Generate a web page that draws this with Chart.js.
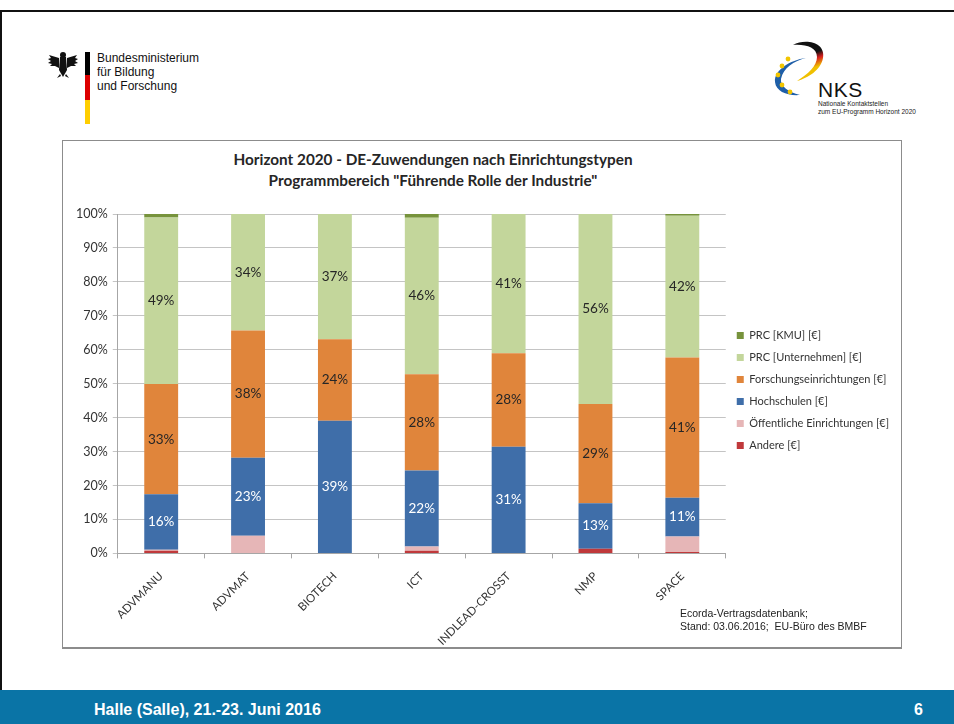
<!DOCTYPE html>
<html>
<head>
<meta charset="utf-8">
<script src="https://cdn.jsdelivr.net/npm/chart.js@4.4.0/dist/chart.umd.min.js"></script>
<style>
body { margin: 0; width: 954px; height: 724px; background: #fff; position: relative; overflow: hidden; font-family: "Liberation Sans", Arial, sans-serif; }
#topline { position: absolute; left: 0; top: 10px; width: 954px; height: 2px; background: #111; }
#leftline { position: absolute; left: 0; top: 10px; width: 2px; height: 714px; background: #111; }
#footer { position: absolute; left: 0; top: 690px; width: 954px; height: 34px; background: #0a74a6; color: #fff; font-weight: bold; font-size: 16px; }
#footer .l { position: absolute; left: 94px; top: 11px; }
#footer .r { position: absolute; left: 914px; top: 11px; }
#bmbf { position: absolute; left: 97px; top: 51px; font-size: 12px; line-height: 14px; color: #111; }
#flag { position: absolute; left: 85px; top: 52px; width: 5px; height: 72px; background: linear-gradient(#000 0, #000 32%, #dd0000 32%, #dd0000 66%, #ffce00 66%); }
#nks { position: absolute; left: 818px; top: 78px; font-size: 21px; color: #111; letter-spacing: 0.5px; }
#nkssub { position: absolute; left: 818px; top: 100px; font-size: 6.5px; line-height: 8px; color: #222; }
#box { position: absolute; left: 62px; top: 140px; width: 838px; height: 506px; border: 1px solid #8c8c8c; border-bottom-width: 2px; }
#title { position: absolute; left: 133px; width: 600px; top: 149px; text-align: center; font-family: Lato, sans-serif; font-weight: bold; font-size: 15.3px; line-height: 21px; color: #262626; }
#wrap { position: absolute; left: 63px; top: 196px; width: 836px; height: 463px; }
#source { position: absolute; left: 680px; top: 607px; font-size: 10.5px; line-height: 13px; color: #222; }
</style>
</head>
<body>
<div id="topline"></div>
<div id="leftline"></div>

<svg style="position:absolute;left:46px;top:50px" width="34" height="30" viewBox="0 0 34 30">
  <g fill="#111">
    <circle cx="17" cy="5" r="3"/>
    <path d="M14 7 L20 7 L21 20 L17 27 L13 20 Z"/>
    <path d="M13 8 L3 5 L5 8 L2 9 L5 11 L2 13 L6 14 L4 16 L9 16 L13 18 Z"/>
    <path d="M21 8 L31 5 L29 8 L32 9 L29 11 L32 13 L28 14 L30 16 L25 16 L21 18 Z"/>
    <path d="M14 24 L11 28 L15 26 Z M20 24 L23 28 L19 26 Z"/>
  </g>
</svg>
<div id="flag"></div>
<div id="bmbf">Bundesministerium<br>für Bildung<br>und Forschung</div>

<svg style="position:absolute;left:760px;top:30px" width="80" height="70" viewBox="0 0 80 70">
  <defs>
    <linearGradient id="dg" x1="0" y1="0" x2="0.3" y2="1">
      <stop offset="0" stop-color="#111"/>
      <stop offset="0.45" stop-color="#111"/>
      <stop offset="0.6" stop-color="#d81e1e"/>
      <stop offset="0.8" stop-color="#f0c000"/>
    </linearGradient>
  </defs>
  <path d="M33 15 C45 8 66 12 63 28 C61 40 48 48 37 51 C48 44 57 36 57 27 C57 17 45 14 33 15 Z" fill="url(#dg)"/>
  <path d="M46 28 C30 30 14 40 15 52 C16 62 28 66 40 65 C28 62 20 56 21 49 C23 38 34 31 46 28 Z" fill="#1f5fa8"/>
  <g fill="#f2c500">
    <circle cx="28" cy="29" r="2.4"/>
    <circle cx="22" cy="36" r="2.4"/>
    <circle cx="18" cy="45" r="2.4"/>
    <circle cx="22" cy="55" r="2.4"/>
    <circle cx="30" cy="62" r="2.4"/>
  </g>
</svg>
<div id="nks">NKS</div>
<div id="nkssub">Nationale Kontaktstellen<br>zum EU-Programm Horizont 2020</div>

<div id="box"></div>
<div id="title">Horizont 2020 - DE-Zuwendungen nach Einrichtungstypen<br>Programmbereich "Führende Rolle der Industrie"</div>
<div id="wrap"><canvas id="myChart"></canvas></div>
<div id="source">Ecorda-Vertragsdatenbank;<br>Stand: 03.06.2016;&nbsp; EU-Büro des BMBF</div>

<div id="footer"><span class="l">Halle (Salle), 21.-23. Juni 2016</span><span class="r">6</span></div>

<script>
// shares in percent
var categories = ['ADVMANU', 'ADVMAT', 'BIOTECH', 'ICT', 'INDLEAD-CROSST', 'NMP', 'SPACE'];
var andere = [0.8, 0, 0, 0.8, 0, 1.4, 0.4];
var oeffentliche = [0.3, 5.2, 0, 1.2, 0, 0, 4.6];
var hochschulen = [16.3, 23.0, 39.1, 22.4, 31.4, 13.4, 11.4];
var forschung = [32.5, 37.5, 24.0, 28.4, 27.6, 29.2, 41.3];
var unternehmen = [49.1, 34.3, 36.9, 46.1, 41.0, 56.0, 41.8];
var kmu = [1.0, 0, 0, 1.1, 0, 0, 0.5];
var yTicks = [0, 10, 20, 30, 40, 50, 60, 70, 80, 90, 100];

// writes the rounded share in the middle of each labelled segment
var segmentLabels = {
    id: 'segmentLabels',
    afterDatasetsDraw: function(chart) {
        var ctx = chart.ctx;
        ctx.save();
        ctx.font = '13.5px Lato, sans-serif';
        ctx.textAlign = 'center';
        ctx.textBaseline = 'middle';
        chart.data.datasets.forEach(function(ds, i) {
            if (!ds.valueColor) return;
            var meta = chart.getDatasetMeta(i);
            meta.data.forEach(function(bar, j) {
                ctx.fillStyle = ds.valueColor;
                ctx.fillText(Math.round(ds.data[j]) + '%', bar.x, (bar.y + bar.base) / 2);
            });
        });
        ctx.restore();
    }
};

window.onload = function() {
    var ctx = document.getElementById('myChart').getContext('2d');
    var myChart = new Chart(ctx, {
        type: 'bar',
        data: {
            labels: categories,
            datasets: [
                { label: 'Andere [€]', data: andere, backgroundColor: '#c0393b' },
                { label: 'Öffentliche Einrichtungen [€]', data: oeffentliche, backgroundColor: '#e6b6b7' },
                { label: 'Hochschulen [€]', data: hochschulen, backgroundColor: '#3f6ea9', valueColor: '#ffffff' },
                { label: 'Forschungseinrichtungen [€]', data: forschung, backgroundColor: '#e0853b', valueColor: '#262626' },
                { label: 'PRC [Unternehmen] [€]', data: unternehmen, backgroundColor: '#c3d69b', valueColor: '#262626' },
                { label: 'PRC [KMU] [€]', data: kmu, backgroundColor: '#77933c' }
            ]
        },
        options: {
            responsive: true,
            maintainAspectRatio: false,
            animation: false,
            datasets: { bar: { barPercentage: 0.39, categoryPercentage: 1 } },
            layout: { padding: { left: 8, right: 0, top: 18, bottom: 0 } },
            plugins: {
                tooltip: { enabled: false },
                legend: {
                    position: 'right',
                    align: 'start',
                    reverse: true,
                    title: { display: true, text: ' ', padding: { top: 93, bottom: 0 }, font: { size: 10 } },
                    labels: {
                        boxWidth: 7,
                        boxHeight: 7,
                        padding: 11,
                        color: '#333',
                        font: { family: 'Lato, sans-serif', size: 11 }
                    }
                }
            },
            scales: {
                x: {
                    stacked: true,
                    grid: { display: true, drawOnChartArea: false, tickLength: 5, color: '#a6a6a6' },
                    border: { color: '#a6a6a6' },
                    ticks: {
                        minRotation: 45,
                        maxRotation: 45,
                        padding: 11,
                        color: '#333',
                        font: { family: 'Lato, sans-serif', size: 11.5 }
                    }
                },
                y: {
                    stacked: true,
                    min: 0,
                    max: 100,
                    afterBuildTicks: function(axis) {
                        axis.ticks = yTicks.map(function(v) { return { value: v }; });
                    },
                    grid: { color: '#c4c4c4', tickLength: 5 },
                    border: { color: '#a6a6a6' },
                    ticks: {
                        padding: 5,
                        color: '#333',
                        font: { family: 'Lato, sans-serif', size: 12.5 },
                        callback: function(v) { return v + '%'; }
                    }
                }
            }
        },
        plugins: [segmentLabels]
    });
};
</script>
</body>
</html>
